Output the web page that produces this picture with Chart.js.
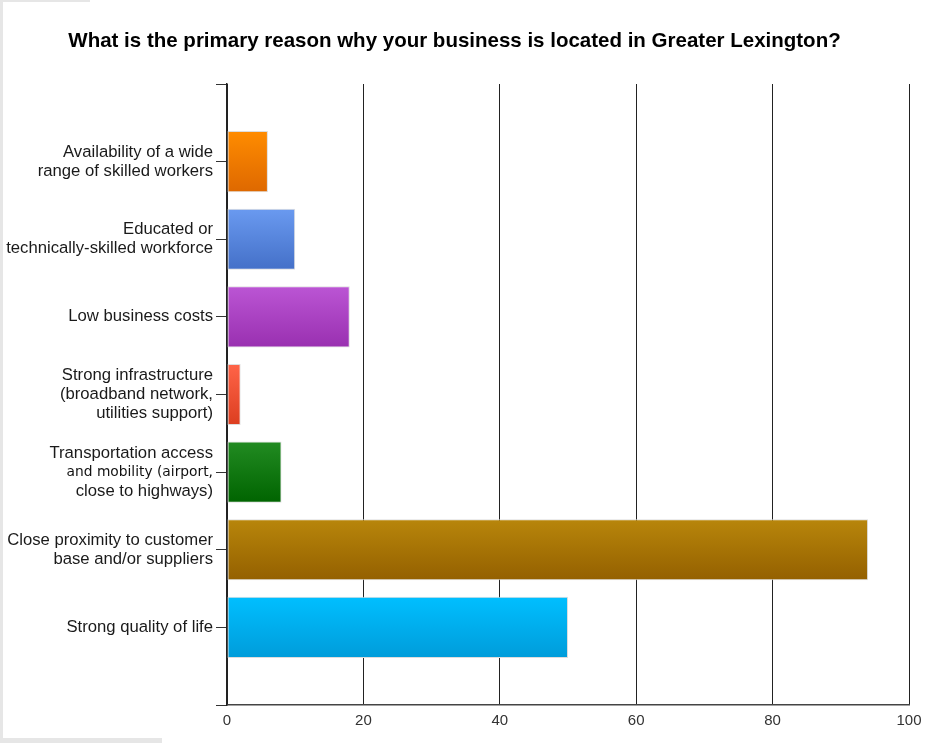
<!DOCTYPE html>
<html>
<head>
<meta charset="utf-8">
<script src="https://cdn.jsdelivr.net/npm/chart.js@4/dist/chart.umd.min.js"></script>
<style>
  html, body { margin: 0; padding: 0; background: #ffffff; }
  #wrap { position: relative; width: 930px; height: 743px; }
  canvas { display: block; }
  .edge { position: absolute; background: #e6e6e6; }
</style>
</head>
<body>
<div id="wrap">
  <canvas id="chart" width="930" height="743"></canvas>
  <div class="edge" style="left:0;top:0;width:3px;height:743px"></div>
  <div class="edge" style="left:0;top:0;width:90px;height:2px"></div>
  <div class="edge" style="left:0;top:738px;width:162px;height:5px"></div>
</div>
<script>
// Survey answers: primary reason for locating in Greater Lexington
const titleText = 'What is the primary reason why your business is located in Greater Lexington?';

const categories = [
  ['Availability of a wide', 'range of skilled workers'],
  ['Educated or', 'technically-skilled workforce'],
  'Low business costs',
  ['Strong infrastructure', '(broadband network,', 'utilities support)'],
  ['Transportation access', 'and mobility (airport,', 'close to highways)'],
  ['Close proximity to customer', 'base and/or suppliers'],
  'Strong quality of life'
];

const responses = [6, 10, 18, 2, 8, 94, 50];

const xTicks = [0, 20, 40, 60, 80, 100];

// Bar gradient colours (top → bottom)
const barTop    = ['#ff8c00', '#6a9af0', '#bb55d4', '#ff6448', '#228b22', '#b8860b', '#00bfff'];
const barBottom = ['#de6800', '#4470c8', '#9930b0', '#dc3e20', '#006400', '#946000', '#009cda'];

// Blank slots above and below the answers give the end ticks of the axis
const paddedLabels = [''].concat(categories, ['']);
const paddedValues = [null].concat(responses, [null]);

const BAR_PCT = 0.786;
// The middle line of this label is set in a different face
const specialIndex = 4;
const specialLine = 1;

function barGradient(ctx, list) {
  const chart = ctx.chart;
  const y = chart.scales && chart.scales.y;
  const i = ctx.dataIndex;
  if (!chart.chartArea || !y || i == null || i < 1 || i > responses.length) return list[0];
  const c = y.getPixelForValue(i);
  const half = (y.getPixelForValue(1) - y.getPixelForValue(0)) * BAR_PCT / 2;
  const g = chart.ctx.createLinearGradient(0, c - half, 0, c + half);
  g.addColorStop(0, barTop[i - 1]);
  g.addColorStop(1, barBottom[i - 1]);
  return g;
}

const specialLabelPlugin = {
  id: 'specialLabel',
  afterDraw(chart) {
    const y = chart.scales.y;
    const lbl = categories[specialIndex];
    const ctx = chart.ctx;
    ctx.save();
    ctx.font = '13.8px "DejaVu Sans"';
    ctx.fillStyle = '#111';
    ctx.textAlign = 'right';
    ctx.textBaseline = 'middle';
    ctx.fillText(lbl[specialLine], y.right - 11 - 3, y.getPixelForValue(specialIndex + 1));
    ctx.restore();
  }
};

new Chart(document.getElementById('chart'), {
  type: 'bar',
  data: {
    labels: paddedLabels,
    datasets: [{
      data: paddedValues,
      backgroundColor: (ctx) => barGradient(ctx, barTop),
      borderColor: '#dddddd',
      borderWidth: 1,
      borderSkipped: false,
      barPercentage: BAR_PCT,
      categoryPercentage: 1
    }]
  },
  options: {
    indexAxis: 'y',
    responsive: false,
    animation: false,
    layout: { padding: { left: 0, right: 21, top: 0, bottom: 0 } },
    plugins: {
      legend: { display: false },
      tooltip: { enabled: false },
      title: {
        display: true,
        text: titleText,
        color: '#000',
        font: { family: '"Liberation Sans", Arial, sans-serif', size: 20.5, weight: 'bold', lineHeight: '24px' },
        padding: { top: 29, bottom: 31 }
      }
    },
    scales: {
      x: {
        type: 'linear',
        min: xTicks[0],
        max: xTicks[xTicks.length - 1],
        afterBuildTicks(scale) { scale.ticks = xTicks.map(v => ({ value: v })); },
        afterFit(scale) { scale.height = 38; },
        grid: { color: '#222', lineWidth: 1, drawTicks: false },
        border: { color: '#444', width: 1.5 },
        ticks: {
          color: '#333',
          padding: 7,
          font: { family: '"Liberation Sans", Arial, sans-serif', size: 15 }
        }
      },
      y: {
        type: 'category',
        offset: false,
        afterFit(scale) { scale.width = 227; },
        grid: { offset: false, drawOnChartArea: false, drawTicks: true, tickLength: 11, color: '#333' },
        border: { color: '#222', width: 1.5 },
        ticks: {
          autoSkip: false,
          color: '#1a1a1a',
          padding: 3,
          font: { family: '"Liberation Sans", Arial, sans-serif', size: 16.7, lineHeight: '19px' },
          callback(value, index) {
            const l = paddedLabels[index];
            if (index === specialIndex + 1 && Array.isArray(l)) {
              return l.map((s, k) => (k === specialLine ? '' : s));
            }
            return l;
          }
        }
      }
    }
  },
  plugins: [specialLabelPlugin]
});
</script>
</body>
</html>
